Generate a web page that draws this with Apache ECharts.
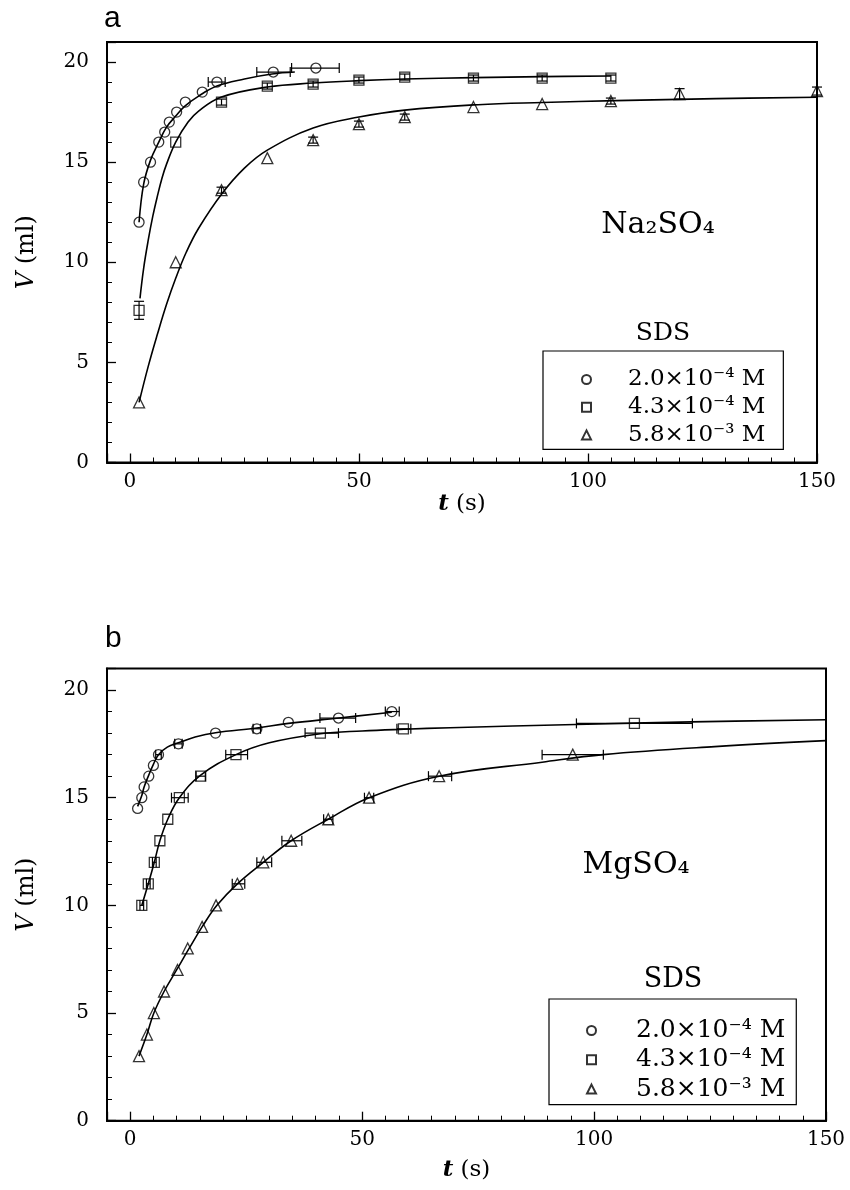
<!DOCTYPE html>
<html>
<head>
<meta charset="utf-8">
<script src="https://cdn.jsdelivr.net/npm/echarts@6/dist/echarts.min.js"></script>
<style>
  html, body { margin: 0; padding: 0; background: #fff; }
  #chart { width: 850px; height: 1190px; }
</style>
</head>
<body>
<div id="chart"></div>
<script>
// legend labels (SDS concentration)
const sdsNames = ['2.0×10⁻⁴ M', '4.3×10⁻⁴ M', '5.8×10⁻³ M'];
const saltNames = ['Na₂SO₄', 'MgSO₄'];
const xTicks = [0, 50, 100, 150];

// panel a (Na2SO4): measured points [t, V]
const aCircle = [[2, 12], [3, 14], [4.5, 15], [6.3, 16], [7.6, 16.5], [8.6, 17], [10.2, 17.5], [12.1, 18], [15.8, 18.5], [19, 19], [31.3, 19.5], [40.6, 19.7]];
const aSquare = [[2, 7.6], [10, 16], [20, 18], [30, 18.8], [40, 18.9], [50, 19.1], [60, 19.25], [75, 19.2], [90, 19.2], [105, 19.2]];
const aTriangle = [[2, 3], [10, 10], [20, 13.6], [30, 15.2], [40, 16.1], [50, 16.9], [60, 17.25], [75, 17.75], [90, 17.9], [105, 18.05], [120, 18.4], [150, 18.55]];
// fitted curves
const aCircleFit = [[2, 12], [3, 13.9], [4.5, 15.1], [6.3, 16.0], [8, 16.75], [10, 17.3], [12, 17.8], [15, 18.3], [19, 18.8], [25, 19.15], [31, 19.4], [36, 19.5]];
const aSquareFit = [[2.2, 8.2], [3, 9.7], [4, 11.1], [5, 12.3], [6, 13.3], [7, 14.2], [8, 14.9], [10, 16.0], [12.7, 17.0], [15, 17.55], [20, 18.25], [30, 18.75], [40, 18.95], [50, 19.07], [60, 19.15], [75, 19.22], [90, 19.27], [105, 19.3]];
const aTriangleFit = [[2, 3.0], [4, 4.8], [6, 6.4], [8, 7.9], [10, 9.2], [12.3, 10.5], [15, 11.7], [20, 13.4], [25, 14.7], [30, 15.6], [40, 16.7], [50, 17.25], [60, 17.6], [76, 17.87], [90, 17.98], [106, 18.07], [128, 18.17], [150, 18.24]];
// error bars [t, V, low, high]
const aCircleXErr = [[19, 19, 17.1, 20.8], [31.3, 19.5, 27.7, 35.0], [40.6, 19.7, 35.3, 45.7]];
const aSquareYErr = [[2, 7.6, 7.15, 8.05], [20, 18, 17.85, 18.15], [30, 18.8, 18.65, 18.95], [40, 18.9, 18.75, 19.05], [50, 19.1, 18.95, 19.25], [60, 19.25, 19.1, 19.4], [75, 19.2, 19.05, 19.35], [90, 19.2, 19.05, 19.35], [105, 19.2, 19.05, 19.35]];
const aTriangleYErr = [[20, 13.6, 13.45, 13.75], [40, 16.1, 15.95, 16.25], [50, 16.9, 16.75, 17.05], [60, 17.25, 17.1, 17.4], [105, 18.05, 17.9, 18.2], [120, 18.4, 18.15, 18.67], [150, 18.55, 18.35, 18.75]];

// panel b (MgSO4)
const bCircle = [[1.6, 14.5], [2.5, 15], [3, 15.5], [4, 16], [5, 16.5], [6.1, 17], [10.4, 17.5], [18.4, 18], [27.3, 18.2], [34.1, 18.5], [44.9, 18.7], [56.4, 19]];
const bSquare = [[2.5, 10], [3.9, 11], [5.2, 12], [6.4, 13], [8.1, 14], [10.6, 15], [15.2, 16], [22.8, 17], [41, 18], [58.9, 18.2], [108.7, 18.45]];
const bTriangle = [[1.9, 3], [3.6, 4], [5.1, 5], [7.3, 6], [10.2, 7], [12.4, 8], [15.5, 9], [18.5, 10], [23.1, 11], [28.7, 12], [34.7, 13], [42.7, 14], [51.5, 15], [66.6, 16], [95.4, 17]];
const bCircleFit = [[1.6, 14.6], [2.5, 15.1], [3, 15.5], [4, 16.05], [5, 16.55], [6.1, 17.0], [8, 17.35], [10.4, 17.55], [14, 17.82], [18.4, 18.02], [27.3, 18.24], [34.1, 18.45], [45, 18.7], [56.4, 18.97]];
const bSquareFit = [[2.5, 10.0], [3.9, 11.0], [5.2, 12.0], [6.4, 13.0], [8.1, 14.0], [10.6, 15.0], [15.2, 16.05], [22.8, 17.0], [30, 17.55], [41, 17.97], [50, 18.1], [59, 18.18], [69, 18.25], [96, 18.4], [121, 18.52], [150, 18.62]];
const bTriangleFit = [[1.9, 3.0], [3.6, 4.0], [5.1, 5.0], [7.3, 6.0], [10, 7.0], [12.7, 8.0], [15.5, 9.0], [18.7, 10.0], [23.1, 11.0], [28.7, 12.0], [34.7, 13.0], [42.7, 14.0], [51.5, 15.0], [66.6, 16.0], [88.8, 16.65], [102, 17.0], [126, 17.37], [150, 17.65]];
const bCircleXErr = [[6.1, 17, 5.5, 6.7], [10.4, 17.5, 9.6, 11.2], [27.3, 18.2, 26.5, 28.1], [44.9, 18.7, 40.9, 48.6], [56.4, 19, 55, 58]];
const bSquareXErr = [[2.5, 10, 2.1, 2.9], [3.9, 11, 3.5, 4.3], [5.2, 12, 4.8, 5.6], [10.6, 15, 8.9, 12.5], [15.2, 16, 14.2, 16.2], [22.8, 17, 20.6, 25.3], [41, 18, 37.7, 44.9], [58.9, 18.2, 57.5, 60.5], [108.7, 18.45, 96.2, 121.2]];
const bTriangleXErr = [[23.1, 11, 22.0, 24.7], [28.7, 12, 27.3, 30.5], [34.7, 13, 32.7, 37.0], [42.7, 14, 41.7, 43.7], [51.5, 15, 50.5, 52.5], [66.6, 16, 64.3, 69.3], [95.4, 17, 88.8, 102]];

const SERIF = '"DejaVu Serif", serif';
const chart = echarts.init(document.getElementById('chart'), null, { renderer: 'canvas' });

function errBar(horizontal) {
  return function (params, api) {
    const x = api.value(0), y = api.value(1), lo = api.value(2), hi = api.value(3);
    const p1 = horizontal ? api.coord([lo, y]) : api.coord([x, lo]);
    const p2 = horizontal ? api.coord([hi, y]) : api.coord([x, hi]);
    const c = 5;
    const style = { stroke: '#000', lineWidth: 1.2 };
    const cap = (p) => horizontal
      ? { x1: p[0], y1: p[1] - c, x2: p[0], y2: p[1] + c }
      : { x1: p[0] - c, y1: p[1], x2: p[0] + c, y2: p[1] };
    return {
      type: 'group',
      children: [
        { type: 'line', shape: { x1: p1[0], y1: p1[1], x2: p2[0], y2: p2[1] }, style },
        { type: 'line', shape: cap(p1), style },
        { type: 'line', shape: cap(p2), style }
      ]
    };
  };
}

function xAxisOf(i, gap) {
  return {
    gridIndex: i, type: 'value', min: -5, max: 150, minInterval: 50, maxInterval: 50,
    name: '{i|t} (s)', nameLocation: 'middle', nameGap: gap,
    nameTextStyle: { color: '#000', fontFamily: SERIF, fontSize: 23,
      rich: { i: { fontStyle: 'italic', fontWeight: 'bold', fontFamily: SERIF, fontSize: 23 } } },
    axisLine: { onZero: false, lineStyle: { color: '#000', width: 2 } },
    axisTick: { inside: true, length: 9, lineStyle: { color: '#000', width: 1.3 } },
    minorTick: { show: true, splitNumber: 10, length: 5, lineStyle: { color: '#000', width: 1 } },
    axisLabel: { showMinLabel: false, color: '#000', fontFamily: SERIF, fontSize: 20, margin: 9,
      formatter: v => xTicks.indexOf(v) >= 0 ? String(v) : '' },
    splitLine: { show: false }
  };
}

function yAxisOf(i) {
  return {
    gridIndex: i, type: 'value', min: 0, max: 21, interval: 5,
    name: '{i|V} (ml)', nameLocation: 'middle', nameGap: 68,
    nameTextStyle: { color: '#000', fontFamily: SERIF, fontSize: 24,
      rich: { i: { fontStyle: 'italic', fontFamily: SERIF, fontSize: 24 } } },
    axisLine: { onZero: false, lineStyle: { color: '#000', width: 2 } },
    axisTick: { inside: true, length: 9, lineStyle: { color: '#000', width: 1.3 } },
    minorTick: { show: true, splitNumber: 5, length: 5, lineStyle: { color: '#000', width: 1 } },
    axisLabel: { showMaxLabel: false, color: '#000', fontFamily: SERIF, fontSize: 20, margin: 18 },
    splitLine: { show: false }
  };
}

const symbols = ['circle', 'rect', 'triangle'];
const symSizes = [10, 10, 11];

function panelSeries(i, points, fits, errs, errHorizontal) {
  const out = [];
  fits.forEach(f => out.push({
    type: 'line', xAxisIndex: i, yAxisIndex: i, data: f, showSymbol: false,
    smooth: 0.4, lineStyle: { color: '#000', width: 1.6 }, z: 2, silent: true
  }));
  errs.forEach((e, k) => out.push({
    type: 'custom', xAxisIndex: i, yAxisIndex: i, data: e,
    renderItem: errBar(errHorizontal[k]), z: 3, silent: true
  }));
  points.forEach((p, k) => out.push({
    type: 'scatter', name: sdsNames[k], xAxisIndex: i, yAxisIndex: i, data: p,
    symbol: symbols[k], symbolSize: symSizes[k],
    itemStyle: { color: 'rgba(255,255,255,0)', borderColor: '#000', borderWidth: 1.3 }, z: 4
  }));
  return out;
}

function legendOf(left, top, fontSize, gap, padding, textPad) {
  return {
    data: sdsNames, orient: 'vertical', left, top, itemWidth: 9, itemHeight: 9,
    itemGap: gap, padding, borderColor: '#000', borderWidth: 1.2,
    selectedMode: false,
    formatter: name => '{t|' + name + '}',
    textStyle: { color: '#000', fontFamily: SERIF, fontSize,
      rich: { t: { fontFamily: SERIF, fontSize, lineHeight: fontSize - 1, padding: [0, 0, 0, textPad] } } }
  };
}

chart.setOption({
  animation: false,
  backgroundColor: '#fff',
  grid: [
    { left: 107, top: 42, width: 710, height: 420.5, show: true, borderColor: '#000', borderWidth: 2 },
    { left: 107, top: 668.5, width: 719, height: 452.2, show: true, borderColor: '#000', borderWidth: 2 }
  ],
  xAxis: [xAxisOf(0, 27), xAxisOf(1, 38)],
  yAxis: [yAxisOf(0), yAxisOf(1)],
  legend: [
    legendOf(543, 351, 23, 4.7, [17, 18, 3, 38], 32),
    legendOf(549, 999, 25, 4.3, [19, 11, 3, 37], 35)
  ],
  graphic: [
    { type: 'text', left: 104, top: 4, style: { text: 'a', font: '30px "Liberation Sans", Arial, sans-serif', fill: '#000' } },
    { type: 'text', left: 105, top: 624, style: { text: 'b', font: '30px "Liberation Sans", Arial, sans-serif', fill: '#000' } },
    { type: 'text', x: 658, y: 225, style: { text: saltNames[0], font: '30px ' + SERIF, fill: '#000', align: 'center', verticalAlign: 'middle' } },
    { type: 'text', x: 636, y: 865, style: { text: saltNames[1], font: '30px ' + SERIF, fill: '#000', align: 'center', verticalAlign: 'middle' } },
    { type: 'text', x: 663, y: 333, style: { text: 'SDS', font: '25px ' + SERIF, fill: '#000', align: 'center', verticalAlign: 'middle' } },
    { type: 'text', x: 673, y: 980, style: { text: 'SDS', font: '27px ' + SERIF, fill: '#000', align: 'center', verticalAlign: 'middle' } }
  ],
  series: [
    ...panelSeries(0, [aCircle, aSquare, aTriangle], [aCircleFit, aSquareFit, aTriangleFit],
      [aCircleXErr, aSquareYErr, aTriangleYErr], [true, false, false]),
    ...panelSeries(1, [bCircle, bSquare, bTriangle], [bCircleFit, bSquareFit, bTriangleFit],
      [bCircleXErr, bSquareXErr, bTriangleXErr], [true, true, true])
  ]
});
</script>
</body>
</html>
